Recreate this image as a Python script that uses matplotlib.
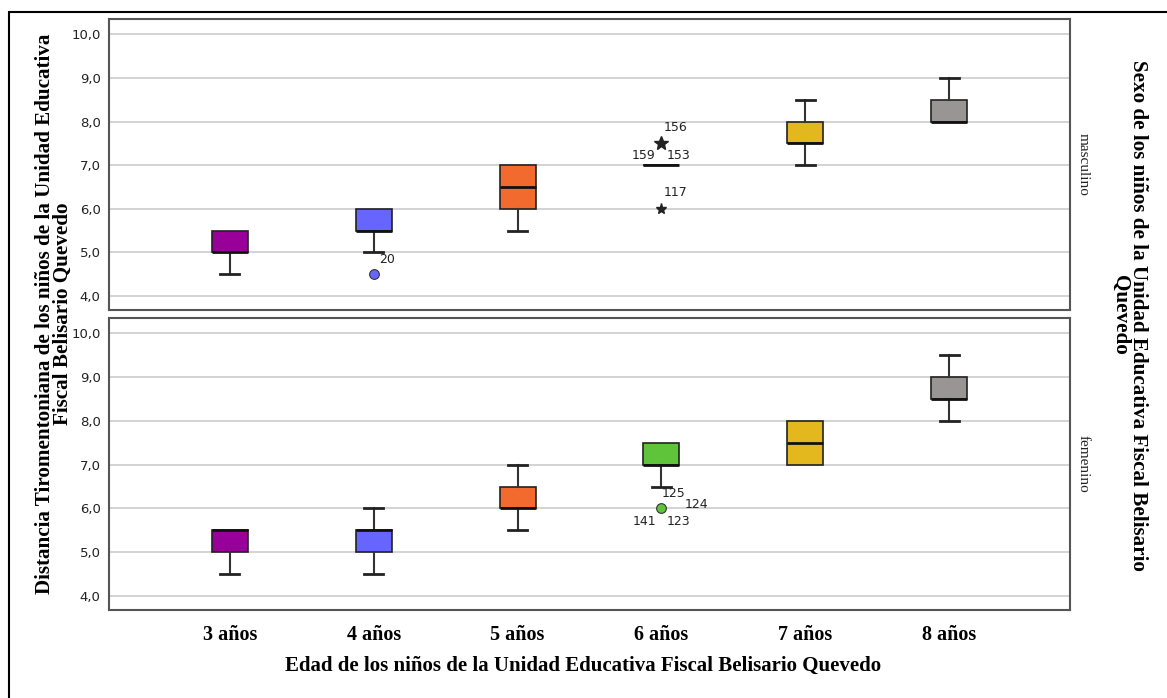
import matplotlib
matplotlib.use("Agg")
import matplotlib.pyplot as plt
from matplotlib.patches import Rectangle

categories = ['3 años', '4 años', '5 años', '6 años', '7 años', '8 años']
colors = ['#990099', '#6666ff', '#f26a2e', '#5fc43a', '#e3b81f', '#999594']

masc_q1 = [5.0, 5.5, 6.0, 7.0, 7.5, 8.0]
masc_med = [5.0, 5.5, 6.5, 7.0, 7.5, 8.0]
masc_q3 = [5.5, 6.0, 7.0, 7.0, 8.0, 8.5]
masc_wlo = [4.5, 5.0, 5.5, 7.0, 7.0, 8.0]
masc_whi = [5.5, 6.0, 7.0, 7.0, 8.5, 9.0]

fem_q1 = [5.0, 5.0, 6.0, 7.0, 7.0, 8.5]
fem_med = [5.5, 5.5, 6.0, 7.0, 7.5, 8.5]
fem_q3 = [5.5, 5.5, 6.5, 7.5, 8.0, 9.0]
fem_wlo = [4.5, 4.5, 5.5, 6.5, 7.0, 8.0]
fem_whi = [5.5, 6.0, 7.0, 7.5, 8.0, 9.5]

# outliers: (category index, value, kind, [(label, dx, dy), ...])
masc_outliers = [
    (1, 4.5, 'o', [('20', 3.6, 10.8)]),
    (3, 7.5, '*', [('156', 1.5, 11.5), ('159', -4, -8.6), ('153', 3.6, -8.6)]),
    (3, 6.0, '*', [('117', 1.5, 11.5)]),
]
fem_outliers = [
    (3, 6.0, 'o', [('125', 0, 11), ('124', 17, 3), ('141', -4, -9.4), ('123', 3.6, -9.4)]),
]

yticks = [4.0, 5.0, 6.0, 7.0, 8.0, 9.0, 10.0]
ytick_labels = ['4,0', '5,0', '6,0', '7,0', '8,0', '9,0', '10,0']

W, H = 1167, 698
fig = plt.figure(figsize=(W / 100, H / 100), dpi=100)

def fx(px):
    return px / W

def fy(py):
    return 1 - py / H

left, right = 109, 1070
ax_top = fig.add_axes([fx(left), fy(310), fx(right - left), (310 - 19) / H])
ax_bot = fig.add_axes([fx(left), fy(610), fx(right - left), (610 - 318) / H])

serif = 'Liberation Serif'

def draw(ax, q1, med, q3, wlo, whi, outliers, strip):
    stats = []
    for i in range(len(categories)):
        stats.append(dict(q1=q1[i], med=med[i], q3=q3[i], whislo=wlo[i], whishi=whi[i], fliers=[]))
    pos = list(range(len(categories)))
    res = ax.bxp(stats, positions=pos, widths=0.25, capwidths=0.13, patch_artist=True,
                 showfliers=False,
                 boxprops=dict(edgecolor='#222222', linewidth=1.2),
                 medianprops=dict(color='#111111', linewidth=2.0),
                 whiskerprops=dict(color='#333333', linewidth=1.5),
                 capprops=dict(color='#222222', linewidth=2.0),
                 zorder=3)
    for patch, c in zip(res['boxes'], colors):
        patch.set_facecolor(c)
    for i in range(len(categories)):
        if wlo[i] == q1[i]:
            res['caps'][2 * i].set_visible(False)
        if whi[i] == q3[i]:
            res['caps'][2 * i + 1].set_visible(False)
    for idx, val, kind, labels in outliers:
        if kind == 'o':
            ax.plot([idx], [val], marker='o', markersize=7, markerfacecolor=colors[idx],
                    markeredgecolor='#333333', markeredgewidth=0.8, linestyle='none', zorder=4)
        else:
            ms = 10 if val > 7 else 8
            ax.plot([idx], [val], marker='*', markersize=ms, color='#222222',
                    linestyle='none', zorder=4)
        for lab, dx, dy in labels:
            ax.annotate(lab, xy=(idx, val), xytext=(dx, dy), textcoords='offset points',
                        fontsize=9, family='DejaVu Sans', color='#222222', va='center',
                        ha='left' if dx >= 0 else 'right', zorder=5)
    ax.set_xlim(-0.84, 5.84)
    ax.set_ylim(3.68, 10.35)
    ax.set_yticks(yticks)
    ax.set_yticklabels(ytick_labels, fontsize=9.5, family='DejaVu Sans', color='#222222')
    ax.grid(axis='y', color='#cccccc', linewidth=1.2, zorder=0)
    ax.set_axisbelow(True)
    ax.tick_params(axis='y', length=0, pad=6)
    for s in ax.spines.values():
        s.set_color('#555555')
        s.set_linewidth(1.5)
    ax.text(1.014, 0.5, strip, transform=ax.transAxes, rotation=-90, fontsize=11,
            family=serif, va='center', ha='center', color='#222222')

draw(ax_top, masc_q1, masc_med, masc_q3, masc_wlo, masc_whi, masc_outliers, 'masculino')
draw(ax_bot, fem_q1, fem_med, fem_q3, fem_wlo, fem_whi, fem_outliers, 'femenino')

ax_top.set_xticks([])
ax_bot.set_xticks(range(len(categories)))
ax_bot.set_xticklabels(categories, fontsize=14.5, family=serif, fontweight='bold')
ax_bot.tick_params(axis='x', length=0, pad=11)

fig.text(fx(583), fy(666), 'Edad de los niños de la Unidad Educativa Fiscal Belisario Quevedo',
         fontsize=15, family=serif, fontweight='bold', ha='center', va='center')
fig.text(fx(54), fy(314), 'Distancia Tiromentoniana de los niños de la Unidad Educativa\nFiscal Belisario Quevedo',
         fontsize=15.2, family=serif, fontweight='bold', ha='center', va='center', rotation=90,
         linespacing=0.9)
fig.text(fx(1129), fy(315), 'Sexo de los niños de la Unidad Educativa Fiscal Belisario\nQuevedo',
         fontsize=15.2, family=serif, fontweight='bold', ha='center', va='center', rotation=-90,
         linespacing=0.9)

fig.patches.append(Rectangle((fx(9), fy(H + 20)), fx(W + 20), (H + 20 - 12) / H,
                             transform=fig.transFigure, fill=False, edgecolor='black',
                             linewidth=1.5))

fig.savefig('out.png', dpi=100)
